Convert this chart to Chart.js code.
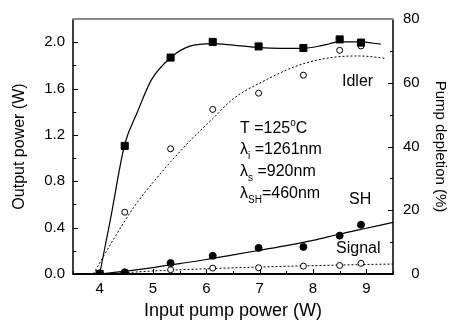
<!DOCTYPE html>
<html>
<head>
<meta charset="utf-8">
<script src="https://cdn.jsdelivr.net/npm/chart.js@4/dist/chart.umd.min.js"></script>
<style>
  html, body { margin: 0; padding: 0; background: #fff; }
  #wrap { width: 451px; height: 320px; }
</style>
</head>
<body>
<div id="wrap"><canvas id="chart" width="451" height="320"></canvas></div>
<script>
// measured points (input pump power in W)
const pumpPower = [4.0, 4.47, 5.33, 6.12, 6.98, 7.82, 8.5, 8.9];
const depletion = [0, 40.2, 67.9, 72.8, 71.4, 70.9, 73.6, 72.6];   // %
const idlerPower = [null, 0.533, 1.08, 1.42, 1.56, 1.715, 1.93, 1.967];  // W
const shPower = [0.006, 0.015, 0.094, 0.157, 0.225, 0.234, 0.331, 0.425];
const signalPower = [null, 0.01, 0.037, 0.051, 0.054, 0.068, 0.074, 0.092];

// fitted curves
const depletionFitX = [4.0, 4.2, 4.47, 4.7, 4.97, 5.33, 5.69, 6.12, 6.5, 7.0, 7.4, 7.81, 8.2, 8.49, 8.87, 9.27];
const depletionFitY = [0, 17, 40.7, 50.5, 60.9, 67.9, 71.5, 72.3, 71.8, 71.0, 70.8, 70.8, 71.8, 72.8, 72.8, 72.1];
const idlerFitX = [3.88, 4.3, 4.64, 5.0, 5.69, 6.12, 6.5, 7.12, 7.75, 8.37, 8.87, 9.36];
const idlerFitY = [0, 0.33, 0.576, 0.79, 1.147, 1.34, 1.51, 1.675, 1.804, 1.869, 1.881, 1.861];
const shFitX = [4.0, 4.5, 5.0, 5.5, 6.0, 6.5, 7.0, 7.5, 8.0, 8.5, 9.0, 9.5];
const shFitY = [0, 0.025, 0.055, 0.09, 0.125, 0.165, 0.205, 0.245, 0.29, 0.345, 0.395, 0.445];
const signalFitX = [4.0, 4.5, 5.0, 6.0, 7.0, 8.0, 9.0, 9.5];
const signalFitY = [0, 0.012, 0.026, 0.045, 0.06, 0.072, 0.082, 0.086];

const xMajor = [4, 5, 6, 7, 8, 9];
const leftMajor = [0, 0.4, 0.8, 1.2, 1.6, 2.0];
const rightMajor = [0, 20, 40, 60, 80];

const FONT = "'Liberation Sans', Arial, sans-serif";

const pts = (xs, ys) => xs.map((x, i) => ({ x: x, y: ys[i] })).filter(p => p.y !== null);

const fitLine = (data, axis, dashed) => ({
    data: data,
    yAxisID: axis,
    showLine: true,
    borderColor: '#000',
    borderWidth: dashed ? 1 : 1.2,
    borderDash: dashed ? [2, 2] : [],
    pointRadius: 0,
    cubicInterpolationMode: 'monotone',
    order: 2
});

const marks = (data, axis, style, filled, r) => ({
    data: data,
    yAxisID: axis,
    showLine: false,
    pointStyle: style,
    pointRadius: r,
    pointBackgroundColor: filled ? '#000' : '#fff',
    pointBorderColor: '#000',
    pointBorderWidth: 1,
    order: 1
});

// frame, inward ticks and text labels
const decor = {
    id: 'decor',
    afterDraw(chart) {
        const ctx = chart.ctx;
        const a = chart.chartArea;
        const sx = chart.scales.x, sy = chart.scales.y, sy1 = chart.scales.y1;
        ctx.save();
        ctx.strokeStyle = '#000';
        ctx.lineWidth = 1;
        // x ticks
        for (let v = 3.5; v <= 9.5001; v += 0.5) {
            const px = Math.round(sx.getPixelForValue(v)) + 0.5;
            const len = xMajor.includes(Math.round(v * 10) / 10) ? 5 : 3;
            ctx.beginPath(); ctx.moveTo(px, a.bottom); ctx.lineTo(px, a.bottom - len); ctx.stroke();
        }
        // left ticks
        for (let i = 0; i <= 11; i++) {
            const v = i * 0.2;
            const py = Math.round(sy.getPixelForValue(v)) + 0.5;
            const len = i % 2 === 0 ? 5 : 3;
            ctx.beginPath(); ctx.moveTo(a.left, py); ctx.lineTo(a.left + len, py); ctx.stroke();
        }
        // right ticks
        for (let v = 0; v <= 80; v += 10) {
            const py = Math.round(sy1.getPixelForValue(v)) + 0.5;
            const len = rightMajor.includes(v) ? 5 : 3;
            ctx.beginPath(); ctx.moveTo(a.right, py); ctx.lineTo(a.right - len, py); ctx.stroke();
        }
        // frame
        ctx.lineWidth = 1.5;
        ctx.beginPath();
        ctx.moveTo(a.left, a.top); ctx.lineTo(a.left, a.bottom);
        ctx.moveTo(a.right, a.top); ctx.lineTo(a.right, a.bottom);
        ctx.stroke();
        ctx.lineWidth = 2;
        ctx.beginPath(); ctx.moveTo(a.left - 0.75, a.bottom); ctx.lineTo(a.right + 0.75, a.bottom); ctx.stroke();
        ctx.strokeStyle = '#888';
        ctx.beginPath(); ctx.moveTo(a.left - 0.75, a.top); ctx.lineTo(a.right + 0.75, a.top); ctx.stroke();

        // annotations
        ctx.fillStyle = '#000';
        ctx.textBaseline = 'middle';
        ctx.textAlign = 'left';
        const big = '16px ' + FONT, small = '10px ' + FONT;
        const run = (x, y, parts) => {
            let cx = x;
            parts.forEach(p => {
                ctx.font = p.s ? small : big;
                ctx.fillText(p.t, cx, y + (p.dy || 0));
                cx += ctx.measureText(p.t).width;
            });
        };
        run(342, 82, [{ t: 'Idler' }]);
        run(240, 129, [{ t: 'T =125' }, { t: 'o', s: 1, dy: -6 }, { t: 'C' }]);
        run(240, 150, [{ t: 'λ' }, { t: 'i', s: 1, dy: 6 }, { t: ' =1261nm' }]);
        run(240, 172, [{ t: 'λ' }, { t: 's', s: 1, dy: 6 }, { t: ' =920nm' }]);
        run(240, 194, [{ t: 'λ' }, { t: 'SH', s: 1, dy: 6 }, { t: '=460nm' }]);
        run(349, 200, [{ t: 'SH' }]);
        run(336, 249, [{ t: 'Signal' }]);
        ctx.restore();
    }
};

new Chart(document.getElementById('chart'), {
    type: 'scatter',
    data: {
        datasets: [
            fitLine(pts(depletionFitX, depletionFitY), 'y1', false),
            fitLine(pts(idlerFitX, idlerFitY), 'y', true),
            fitLine(pts(shFitX, shFitY), 'y', false),
            fitLine(pts(signalFitX, signalFitY), 'y', true),
            marks(pts(pumpPower, depletion), 'y1', 'rect', true, 5),
            marks(pts(pumpPower, idlerPower), 'y', 'circle', false, 3),
            marks(pts(pumpPower, shPower), 'y', 'circle', true, 3.5),
            marks(pts(pumpPower, signalPower), 'y', 'circle', false, 3)
        ]
    },
    options: {
        responsive: false,
        animation: false,
        events: [],
        layout: { padding: { top: 17, left: 0, right: 0, bottom: 0 } },
        plugins: { legend: { display: false }, tooltip: { enabled: false } },
        scales: {
            x: {
                type: 'linear', min: 3.5, max: 9.5,
                grid: { display: false, drawTicks: false, tickLength: 0 },
                border: { display: false },
                ticks: {
                    stepSize: 0.5, padding: 6, color: '#000', maxRotation: 0, autoSkip: false,
                    font: { family: FONT, size: 15 },
                    callback: v => xMajor.includes(v) ? String(v) : ''
                },
                title: {
                    display: true, text: 'Input pump power (W)', color: '#000',
                    font: { family: FONT, size: 18, lineHeight: 1 }, padding: { top: 0, bottom: 0 }
                },
                afterFit: s => { s.height = 46; }
            },
            y: {
                type: 'linear', position: 'left', min: 0, max: 2.2,
                grid: { display: false, drawTicks: false, tickLength: 0 },
                border: { display: false },
                ticks: {
                    stepSize: 0.2, padding: 8, color: '#000', autoSkip: false,
                    font: { family: FONT, size: 15 },
                    callback: v => {
                        const r = Math.round(v * 10) / 10;
                        return leftMajor.includes(r) ? r.toFixed(1) : '';
                    }
                },
                title: {
                    display: true, text: 'Output power (W)', color: '#000',
                    font: { family: FONT, size: 16, lineHeight: 1 }, padding: { top: 12, bottom: 0 }
                },
                afterFit: s => { s.width = 73; }
            },
            y1: {
                type: 'linear', position: 'right', min: 0, max: 80,
                grid: { display: false, drawTicks: false, tickLength: 0 },
                border: { display: false },
                ticks: {
                    stepSize: 10, padding: 10, color: '#000', autoSkip: false,
                    font: { family: FONT, size: 15 },
                    callback: v => rightMajor.includes(v) ? (v < 10 ? '\u2007' + v : String(v)) : ''
                },
                title: {
                    display: true, text: 'Pump depletion (%)', color: '#000',
                    font: { family: FONT, size: 15, lineHeight: 1 }, padding: { top: 3, bottom: 0 }
                },
                afterFit: s => { s.width = 58; }
            }
        }
    },
    plugins: [decor]
});
</script>
</body>
</html>
